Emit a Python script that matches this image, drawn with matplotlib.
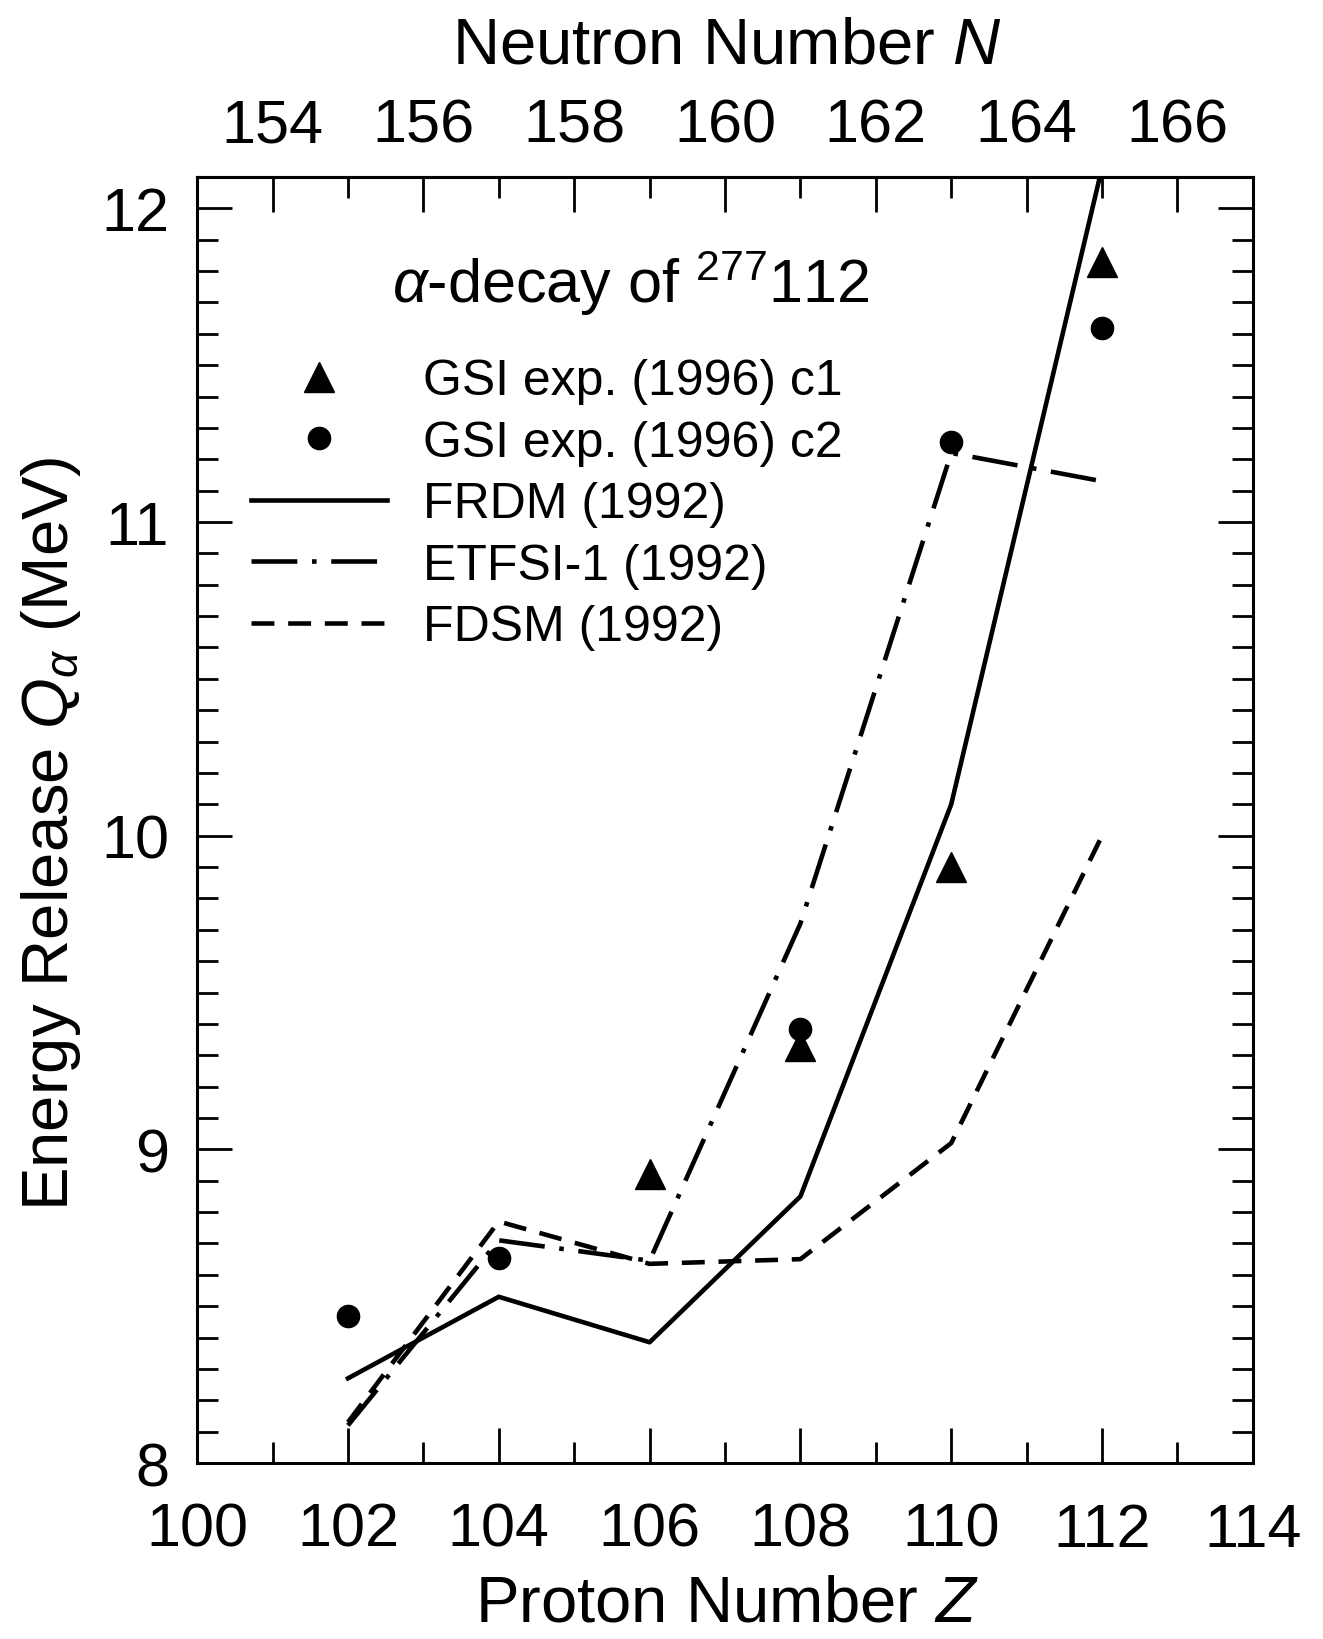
import numpy as np
import matplotlib
matplotlib.use("Agg")
import matplotlib.pyplot as plt
from matplotlib.ticker import MultipleLocator

# ---- data ----
z_model = [102, 104, 106, 108, 110, 112]
q_frdm = [8.27, 8.53, 8.385, 8.85, 10.10, 12.13]
q_etfsi = [8.12, 8.71, 8.645, 9.72, 11.22, 11.13]
q_fdsm = [8.13, 8.77, 8.635, 8.65, 9.02, 10.0]

z_c1 = [106, 108, 110, 112]
q_c1 = [8.92, 9.33, 9.90, 11.83]
z_c2 = [102, 104, 108, 110, 112]
q_c2 = [8.47, 8.655, 9.385, 11.255, 11.62]

n_ticks = [154, 156, 158, 160, 162, 164, 166]

plt.rcParams['font.family'] = ['Liberation Sans', 'DejaVu Sans']
plt.rcParams['mathtext.fontset'] = 'custom'
plt.rcParams['mathtext.rm'] = 'Liberation Sans'
plt.rcParams['mathtext.it'] = 'Liberation Sans:italic'

fig = plt.figure(figsize=(13.23, 16.4), dpi=100)
ax = fig.add_axes([0.149, 0.1073, 0.798, 0.7842])

lw = 3.3
ax.plot(z_model, q_frdm, color='black', lw=lw, ls='-', label='FRDM (1992)')
ax.plot(z_model, q_etfsi, color='black', lw=lw, ls=(0, (10, 3.2, 1, 3.2)),
        label='ETFSI-1 (1992)')
ax.plot(z_model, q_fdsm, color='black', lw=lw, ls=(0, (5.0, 3.0)), label='FDSM (1992)')
ax.plot(z_c1, q_c1, ls='none', marker='^', ms=21, color='black', zorder=5,
        label='GSI exp. (1996) c1')
ax.plot(z_c2, q_c2, ls='none', marker='o', ms=16, color='black', zorder=5,
        label='GSI exp. (1996) c2')

ax.set_xlim(100, 114)
ax.set_ylim(8, 12.1)

ax.xaxis.set_major_locator(MultipleLocator(2))
ax.xaxis.set_minor_locator(MultipleLocator(1))
ax.yaxis.set_major_locator(MultipleLocator(1))
ax.yaxis.set_minor_locator(MultipleLocator(0.1))

for s in ax.spines.values():
    s.set_linewidth(2.2)

ax.tick_params(which='both', direction='in', right=True, top=False, width=2.0)
ax.tick_params(which='major', length=25, labelsize=44)
ax.tick_params(which='minor', length=15)
ax.tick_params(axis='x', which='major', pad=28)
ax.tick_params(axis='y', which='major', pad=20)

# top axis: neutron number N = Z + 53
sec = ax.secondary_xaxis('top', functions=(lambda z: z + 53, lambda n: n - 53))
sec.set_xticks(n_ticks)
sec.xaxis.set_minor_locator(MultipleLocator(1))
sec.tick_params(which='both', direction='in', width=2.0)
sec.tick_params(which='major', length=25, labelsize=44, pad=16)
sec.tick_params(which='minor', length=15)
sec.spines['top'].set_linewidth(2.2)
sec.set_xlabel('Neutron Number $N$', fontsize=47)
sec.xaxis.set_label_coords(0.502, 1.089, transform=ax.transAxes)

ax.set_xlabel('Proton Number $Z$', fontsize=47)
ax.xaxis.set_label_coords(0.502, -0.086)
ax.set_ylabel(r'Energy Release $Q_\alpha$ (MeV)', fontsize=47)
ax.yaxis.set_label_coords(-0.108, 0.49)

ax.text(0.185, 0.903, r'$\alpha$-decay of $^{277}$112', transform=ax.transAxes,
        fontsize=44, va='baseline', ha='left')

# legend order as in the figure
h, l = ax.get_legend_handles_labels()
order = [3, 4, 0, 1, 2]
ax.legend([h[i] for i in order], [l[i] for i in order], loc='upper left',
          bbox_to_anchor=(0.051, 0.859), frameon=False, fontsize=36,
          handlelength=2.72, handletextpad=0.72, labelspacing=0.31,
          borderpad=0, borderaxespad=0, numpoints=1)

fig.savefig('out.png', dpi=100)
